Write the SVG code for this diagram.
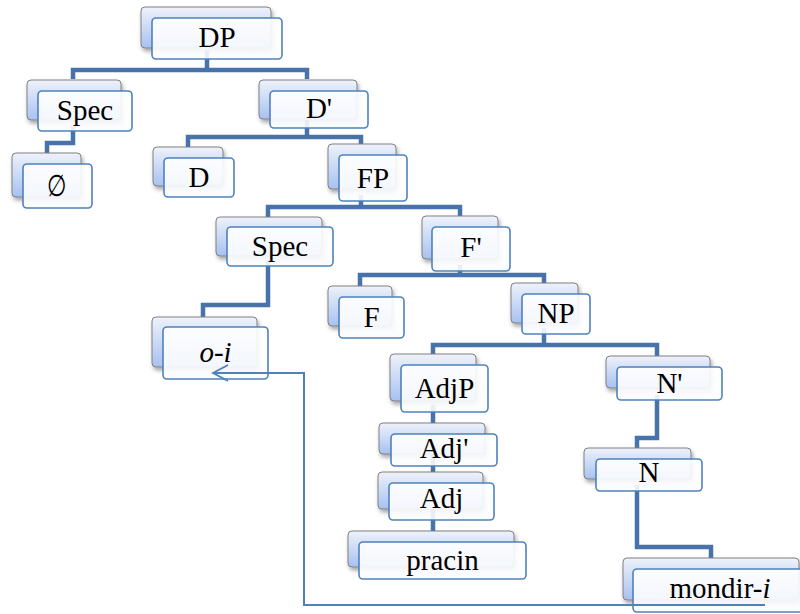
<svg xmlns="http://www.w3.org/2000/svg" width="800" height="614" viewBox="0 0 800 614">
<defs>
<linearGradient id="gBack" x1="0" y1="0" x2="0" y2="1">
<stop offset="0" stop-color="#eef2fa"/>
<stop offset="1" stop-color="#a7c1f1"/>
</linearGradient>
<linearGradient id="gFront" x1="0" y1="0" x2="0" y2="1">
<stop offset="0" stop-color="#ffffff" stop-opacity="0.9"/>
<stop offset="1" stop-color="#fbfcfe" stop-opacity="0.9"/>
</linearGradient>
<filter id="sh" x="-20%" y="-20%" width="140%" height="150%">
<feDropShadow dx="1.5" dy="3" stdDeviation="2" flood-color="#000" flood-opacity="0.35"/>
</filter>
<marker id="arr" markerUnits="userSpaceOnUse" markerWidth="20" markerHeight="22" refX="16" refY="9" orient="auto" viewBox="0 0 20 18">
<path d="M1,1 L16,9 L1,17" fill="none" stroke="#4f81bd" stroke-width="1.8"/>
</marker>
</defs>
<style>
.back{fill:url(#gBack);stroke:#808080;stroke-width:1;filter:url(#sh)}
.front{fill:url(#gFront);stroke:#4f81bd;stroke-width:1.6}
.lbl{font-size:29px;fill:#000;text-anchor:middle}
.it{font-style:italic}
.con{fill:none;stroke:#4872aa;stroke-width:4.5;stroke-linejoin:miter}
.mv{fill:none;stroke:#4f81bd;stroke-width:2}
</style>
<rect width="800" height="614" fill="#fff"/>
<g id="connectors">
<path class="con" d="M207,50 V70 M73,79 V70 H307 V79"/>
<path class="con" d="M73,125 V143 H47 V153"/>
<path class="con" d="M307,120 V137 M188,147 V137 H361 V144"/>
<path class="con" d="M361,195 V207 M268,217 V207 H460 V216"/>
<path class="con" d="M268,260 V305 H203 V317"/>
<path class="con" d="M460,265 V275 M360,286 V275 H544 V283"/>
<path class="con" d="M544,328 V345 M433,354 V345 H657 V356"/>
<path class="con" d="M433,405 V540"/>
<path class="con" d="M657,395 V438 H637 V448"/>
<path class="con" d="M637,485 V547 H711 V558"/>
</g>
<g font-family="Liberation Serif, Times New Roman, DejaVu Serif, serif">
<g id="n-DP"><rect class="back" x="141" y="7" width="130" height="41" rx="4"/><rect class="front" x="152" y="18" width="130" height="41" rx="4"/><text class="lbl" x="217" y="47">DP</text></g>
<g id="n-Spec1"><rect class="back" x="27" y="80" width="94" height="40" rx="4"/><rect class="front" x="38" y="91" width="94" height="40" rx="4"/><text class="lbl" x="85" y="120">Spec</text></g>
<g id="n-Dbar"><rect class="back" x="259" y="80" width="98" height="39" rx="4"/><rect class="front" x="270" y="91" width="98" height="37" rx="4"/><text class="lbl" x="319" y="118">D'</text></g>
<g id="n-empty"><rect class="back" x="12" y="153" width="69" height="44" rx="4"/><rect class="front" x="23" y="164" width="69" height="44" rx="4"/><text class="lbl" transform="translate(57.5,196) scale(0.78,1.05)" x="0" y="0">∅</text></g>
<g id="n-D"><rect class="back" x="153" y="147" width="70" height="39" rx="4"/><rect class="front" x="164" y="158" width="70" height="39" rx="4"/><text class="lbl" x="199" y="187">D</text></g>
<g id="n-FP"><rect class="back" x="328" y="144" width="68" height="45" rx="4"/><rect class="front" x="339" y="155" width="68" height="46" rx="4"/><text class="lbl" x="373" y="188">FP</text></g>
<g id="n-Spec2"><rect class="back" x="216" y="217" width="106" height="39" rx="4"/><rect class="front" x="227" y="227" width="106" height="39" rx="4"/><text class="lbl" x="280" y="256">Spec</text></g>
<g id="n-Fbar"><rect class="back" x="422" y="216" width="76" height="43" rx="4"/><rect class="front" x="432" y="227" width="78" height="44" rx="4"/><text class="lbl" x="471" y="257">F'</text></g>
<g id="n-oi"><rect class="back" x="152" y="317" width="105" height="50" rx="4"/><rect class="front" x="163" y="327" width="105" height="52" rx="4"/><text class="lbl it" x="215.5" y="362">o-i</text></g>
<g id="n-F"><rect class="back" x="328" y="286" width="64" height="40" rx="4"/><rect class="front" x="339" y="297" width="65" height="41" rx="4"/><text class="lbl" x="371.5" y="327">F</text></g>
<g id="n-NP"><rect class="back" x="511" y="283" width="67" height="40" rx="4"/><rect class="front" x="522" y="294" width="68" height="40" rx="4"/><text class="lbl" x="556" y="323">NP</text></g>
<g id="n-AdjP"><rect class="back" x="390" y="354" width="86" height="47" rx="4"/><rect class="front" x="401" y="365" width="87" height="47" rx="4"/><text class="lbl" x="444.5" y="398">AdjP</text></g>
<g id="n-Nbar"><rect class="back" x="606" y="356" width="104" height="32" rx="4"/><rect class="front" x="617" y="367" width="105" height="33" rx="4"/><text class="lbl" x="669.5" y="393">N'</text></g>
<g id="n-Adjbar"><rect class="back" x="379" y="423" width="106" height="31" rx="4"/><rect class="front" x="391" y="434" width="106" height="32" rx="4"/><text class="lbl" x="444" y="458">Adj'</text></g>
<g id="n-Adj"><rect class="back" x="378" y="472" width="105" height="37" rx="4"/><rect class="front" x="389" y="483" width="105" height="37" rx="4"/><text class="lbl" x="441.5" y="508">Adj</text></g>
<g id="n-N"><rect class="back" x="584" y="448" width="107" height="31" rx="4"/><rect class="front" x="596" y="459" width="106" height="32" rx="4"/><text class="lbl" x="649" y="482">N</text></g>
<g id="n-pracin"><rect class="back" x="348" y="531" width="166" height="36" rx="4"/><rect class="front" x="359" y="542" width="167" height="37" rx="4"/><text class="lbl" x="442.5" y="570">pracin</text></g>
<g id="n-mondir"><rect class="back" x="623" y="558" width="176" height="42" rx="4"/><rect class="front" x="633" y="569" width="176" height="43" rx="4"/><text class="lbl" x="720" y="598">mondir-<tspan class="it">i</tspan></text></g>
</g>
<g id="movement">
<path class="mv" d="M765,605 H304 V373 H213" marker-end="url(#arr)"/>
</g>
</svg>
